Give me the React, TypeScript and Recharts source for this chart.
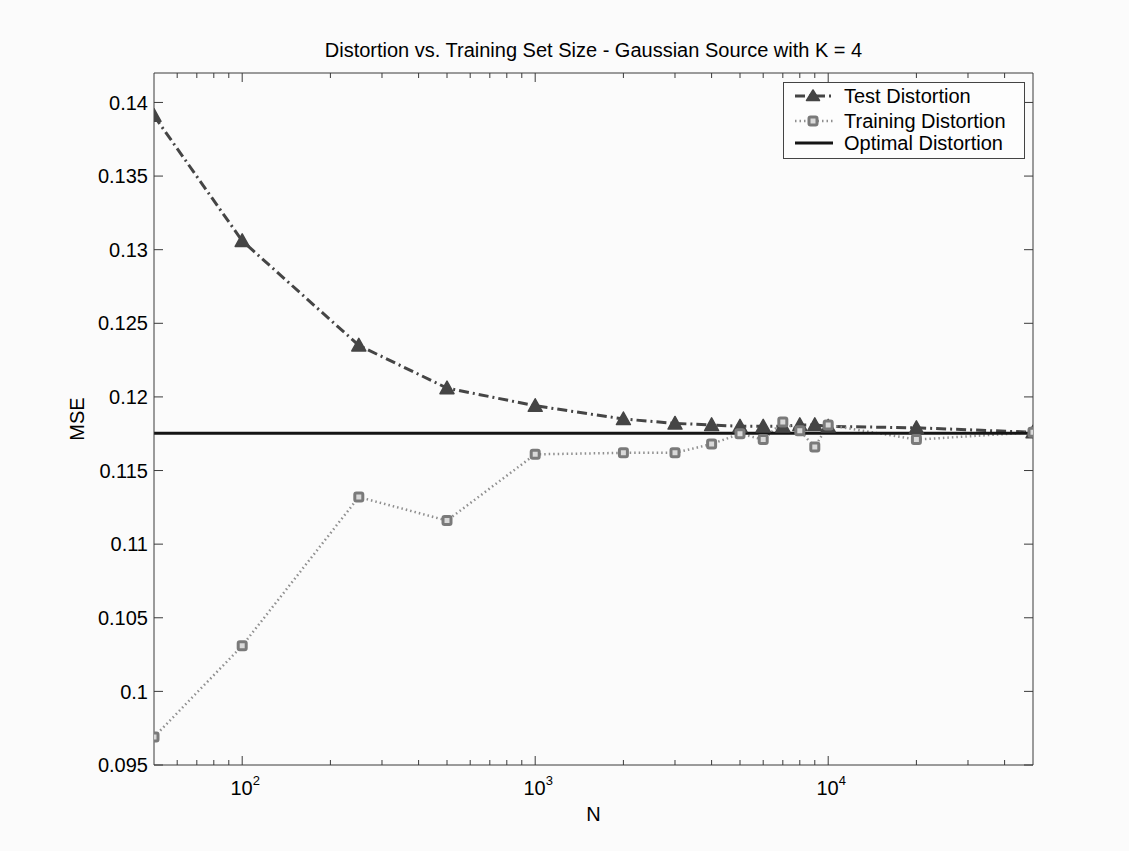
import React from 'react';
import { ComposedChart, Line, XAxis, YAxis, ReferenceLine, Legend } from 'recharts';

// ---------- data ----------
const N_VALUES = [50, 100, 250, 500, 1000, 2000, 3000, 4000, 5000, 6000, 7000, 8000, 9000, 10000, 20000, 50000];
const TEST_MSE = [0.1391, 0.1306, 0.1235, 0.1206, 0.1194, 0.1185, 0.1182, 0.1181, 0.1180, 0.1180, 0.1180, 0.1181, 0.1181, 0.1180, 0.1179, 0.1176];
const TRAIN_MSE = [0.0969, 0.1031, 0.1132, 0.1116, 0.1161, 0.1162, 0.1162, 0.1168, 0.1175, 0.1171, 0.1183, 0.1177, 0.1166, 0.1181, 0.1171, 0.1176];
const OPTIMAL_MSE = 0.11753;

const X_MAJOR_TICKS = [100, 1000, 10000];
const X_MAJOR_EXPONENTS = ['2', '3', '4'];
const X_MINOR_TICKS = [60, 70, 80, 90, 200, 300, 400, 500, 600, 700, 800, 900, 2000, 3000, 4000, 5000, 6000, 7000, 8000, 9000, 20000, 30000, 40000];
const Y_TICKS = [0.095, 0.1, 0.105, 0.11, 0.115, 0.12, 0.125, 0.13, 0.135, 0.14];
const Y_TICK_LABELS = ['0.095', '0.1', '0.105', '0.11', '0.115', '0.12', '0.125', '0.13', '0.135', '0.14'];
const X_DOMAIN: [number, number] = [50, 50000];
const Y_DOMAIN: [number, number] = [0.095, 0.142];

const TITLE = 'Distortion vs. Training Set Size - Gaussian Source with K = 4';
const X_LABEL = 'N';
const Y_LABEL = 'MSE';
const SERIES_NAMES = ['Test Distortion', 'Training Distortion', 'Optimal Distortion'];

const data = N_VALUES.map((n, i) => ({ n, test: TEST_MSE[i], train: TRAIN_MSE[i] }));
const X_ALL_TICKS = [...X_MAJOR_TICKS, ...X_MINOR_TICKS].sort((a, b) => a - b);

// ---------- layout / style ----------
const W = 1129;
const H = 851;
const PLOT_LEFT = 154;
const PLOT_RIGHT = 1033;
const PLOT_TOP = 73;
const PLOT_BOTTOM = 765;
const FONT = '"Liberation Sans", Arial, Helvetica, sans-serif';
const AXIS = '#3a3a3a';
const TEST_COLOR = '#454545';
const TRAIN_COLOR = '#8f8f8f';
const OPT_COLOR = '#151515';
const MAJOR_LEN = 9;
const MINOR_LEN = 5;

const majorIndex = (v: number) => X_MAJOR_TICKS.findIndex((t) => Math.abs(t - v) / t < 1e-6);
const yLabelFor = (v: number) => {
  let best = 0;
  Y_TICKS.forEach((t, i) => {
    if (Math.abs(t - v) < Math.abs(Y_TICKS[best] - v)) best = i;
  });
  return Y_TICK_LABELS[best];
};

const BottomTick = (props: any) => {
  const { x, payload } = props;
  const mi = majorIndex(payload.value);
  const major = mi >= 0;
  return (
    <g>
      <line x1={x} x2={x} y1={PLOT_BOTTOM} y2={PLOT_BOTTOM - (major ? MAJOR_LEN : MINOR_LEN)} stroke={AXIS} strokeWidth={1} />
      {major && (
        <text x={x + 3} y={PLOT_BOTTOM + 30} textAnchor="middle" fontFamily={FONT} fontSize={20} fill="#000">
          10
          <tspan dy={-10} fontSize={13}>{X_MAJOR_EXPONENTS[mi]}</tspan>
        </text>
      )}
    </g>
  );
};

const TopTick = (props: any) => {
  const { x, payload } = props;
  const major = majorIndex(payload.value) >= 0;
  return <line x1={x} x2={x} y1={PLOT_TOP} y2={PLOT_TOP + (major ? MAJOR_LEN : MINOR_LEN)} stroke={AXIS} strokeWidth={1} />;
};

const LeftTick = (props: any) => {
  const { y, payload } = props;
  return (
    <g>
      <line x1={PLOT_LEFT} x2={PLOT_LEFT + MAJOR_LEN} y1={y} y2={y} stroke={AXIS} strokeWidth={1} />
      <text x={PLOT_LEFT - 6} y={y} dy="0.36em" textAnchor="end" fontFamily={FONT} fontSize={20} fill="#000">
        {yLabelFor(payload.value)}
      </text>
    </g>
  );
};

const RightTick = (props: any) => {
  const { y } = props;
  return <line x1={PLOT_RIGHT} x2={PLOT_RIGHT - MAJOR_LEN} y1={y} y2={y} stroke={AXIS} strokeWidth={1} />;
};

const TriangleDot = (props: any) => {
  const { cx, cy, index } = props;
  if (cx == null || cy == null) return <g key={`t-${index}`} />;
  const s = 7;
  return (
    <path
      key={`t-${index}`}
      d={`M${cx},${cy - s} L${cx + s},${cy + s * 0.8} L${cx - s},${cy + s * 0.8} Z`}
      fill={TEST_COLOR}
      stroke={TEST_COLOR}
      strokeWidth={1.5}
      strokeLinejoin="round"
    />
  );
};

const SquareDot = (props: any) => {
  const { cx, cy, index } = props;
  if (cx == null || cy == null) return <g key={`s-${index}`} />;
  const s = 4;
  return (
    <rect
      key={`s-${index}`}
      x={cx - s}
      y={cy - s}
      width={2 * s}
      height={2 * s}
      rx={1.5}
      fill="#d9d9d9"
      stroke="#7a7a7a"
      strokeWidth={3}
    />
  );
};

const LegendBox = () => {
  const rows = [14, 39, 61];
  return (
    <svg width={242} height={77} style={{ display: 'block' }}>
      <rect x={0.5} y={0.5} width={241} height={76} fill="#fdfdfd" stroke="#444" strokeWidth={1} />
      <line x1={12} x2={50} y1={rows[0]} y2={rows[0]} stroke={TEST_COLOR} strokeWidth={3} strokeDasharray="10 4 2 4" />
      <path d={`M30,${rows[0] - 6} L36.5,${rows[0] + 4.5} L23.5,${rows[0] + 4.5} Z`} fill={TEST_COLOR} stroke={TEST_COLOR} strokeWidth={1.5} strokeLinejoin="round" />
      <line x1={12} x2={50} y1={rows[1]} y2={rows[1]} stroke={TRAIN_COLOR} strokeWidth={2.5} strokeDasharray="1.5 3" />
      <rect x={26} y={rows[1] - 4} width={8} height={8} rx={1.5} fill="#d9d9d9" stroke="#7a7a7a" strokeWidth={3} />
      <line x1={12} x2={50} y1={rows[2]} y2={rows[2]} stroke={OPT_COLOR} strokeWidth={3} />
      {SERIES_NAMES.map((name, i) => (
        <text key={name} x={61} y={rows[i]} dy="0.36em" fontFamily={FONT} fontSize={20} fill="#000">
          {name}
        </text>
      ))}
    </svg>
  );
};

export default function App() {
  return (
    <div style={{ position: 'absolute', left: 0, top: 0, width: W, height: H, background: '#fbfbfb', fontFamily: FONT }}>
      <div
        style={{
          position: 'absolute',
          left: PLOT_LEFT,
          width: PLOT_RIGHT - PLOT_LEFT,
          top: 38,
          textAlign: 'center',
          fontSize: 20,
          lineHeight: '24px',
          color: '#000',
          whiteSpace: 'nowrap',
        }}
      >
        {TITLE}
      </div>
      <ComposedChart
        width={W}
        height={H}
        data={data}
        margin={{ top: PLOT_TOP - 1, right: W - PLOT_RIGHT - 1, bottom: 0, left: 0 }}
        style={{ position: 'absolute', left: 0, top: 0 }}
      >
        <XAxis
          dataKey="n"
          type="number"
          scale="log"
          domain={X_DOMAIN}
          allowDataOverflow
          ticks={X_ALL_TICKS}
          interval={0}
          height={H - PLOT_BOTTOM}
          tickLine={false}
          axisLine={{ stroke: AXIS, strokeWidth: 1 }}
          tick={<BottomTick />}
          label={{ value: X_LABEL, position: 'insideTop', offset: 42, fontSize: 20, fill: '#000', fontFamily: FONT }}
        />
        <XAxis
          xAxisId="top"
          orientation="top"
          dataKey="n"
          type="number"
          scale="log"
          domain={X_DOMAIN}
          allowDataOverflow
          ticks={X_ALL_TICKS}
          interval={0}
          height={1}
          tickLine={false}
          axisLine={{ stroke: AXIS, strokeWidth: 1 }}
          tick={<TopTick />}
        />
        <YAxis
          type="number"
          domain={Y_DOMAIN}
          allowDataOverflow
          ticks={Y_TICKS}
          interval={0}
          width={PLOT_LEFT}
          tickLine={false}
          axisLine={{ stroke: AXIS, strokeWidth: 1 }}
          tick={<LeftTick />}
          label={{ value: Y_LABEL, angle: -90, position: 'insideLeft', offset: 77, fontSize: 20, fill: '#000', fontFamily: FONT, style: { textAnchor: 'middle' } }}
        />
        <YAxis
          yAxisId="right"
          orientation="right"
          type="number"
          domain={Y_DOMAIN}
          allowDataOverflow
          ticks={Y_TICKS}
          interval={0}
          width={1}
          tickLine={false}
          axisLine={{ stroke: AXIS, strokeWidth: 1 }}
          tick={<RightTick />}
        />
        <Line
          dataKey="test"
          name={SERIES_NAMES[0]}
          stroke={TEST_COLOR}
          strokeWidth={3}
          strokeDasharray="10 4 2 4"
          dot={TriangleDot}
          activeDot={false}
          isAnimationActive={false}
          type="linear"
        />
        <Line
          dataKey="train"
          name={SERIES_NAMES[1]}
          stroke={TRAIN_COLOR}
          strokeWidth={2.5}
          strokeDasharray="1.5 3"
          dot={SquareDot}
          activeDot={false}
          isAnimationActive={false}
          type="linear"
        />
        <ReferenceLine y={OPTIMAL_MSE} stroke={OPT_COLOR} strokeWidth={3} ifOverflow="hidden" />
        <Legend
          layout="vertical"
          align="center"
          verticalAlign="middle"
          content={() => <LegendBox />}
          wrapperStyle={{ left: 783, top: 82, width: 242, height: 77, margin: 0, padding: 0 }}
        />
      </ComposedChart>
    </div>
  );
}
